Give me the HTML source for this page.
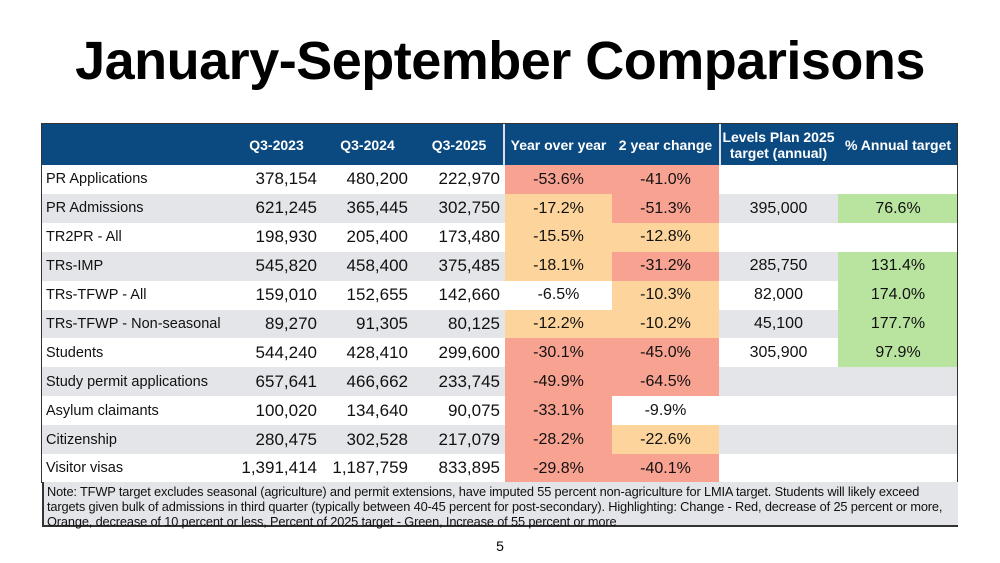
<!DOCTYPE html>
<html><head><meta charset="utf-8"><style>
body{margin:0;width:1000px;height:563px;background:#fff;font-family:"Liberation Sans",Arial,sans-serif;position:relative;overflow:hidden}
#title{position:absolute;left:0;top:30px;width:1000px;text-align:center;font-weight:bold;font-size:54px;color:#000;letter-spacing:-0.5px}
#tbl{position:absolute;left:0;top:0}
.c{position:absolute;box-sizing:border-box;display:flex;align-items:center;justify-content:center;color:#111;font-size:16px;white-space:nowrap}
.h{color:#fff;font-weight:bold;font-size:14px;text-align:center;line-height:16px}
.lab{justify-content:flex-start;padding-left:4px;font-size:14.5px}
.num{justify-content:flex-end;padding-right:5px;font-size:17px}
#note{position:absolute;left:42px;top:482px;width:916px;height:45px;background:#e4e5e9;font-size:12.8px;line-height:15px;padding:2px 3px;box-sizing:border-box;border-left:2px solid #333;border-bottom:2px solid #333;color:#111;letter-spacing:-0.15px}
#pg{position:absolute;left:0;top:538px;width:1000px;text-align:center;font-size:14px}
</style></head><body>
<div id="title">January-September Comparisons</div>
<div id="tbl"></div>
<div id="note">Note: TFWP target excludes seasonal (agriculture) and permit extensions, have imputed 55 percent non-agriculture for LMIA target. Students will likely exceed targets given bulk of admissions in third quarter (typically between 40-45 percent for post-secondary). Highlighting: Change - Red, decrease of 25 percent or more, Orange, decrease of 10 percent or less, Percent of 2025 target - Green, Increase of 55 percent or more</div>
<div id="pg">5</div>
<script>
const headers=["","Q3-2023","Q3-2024","Q3-2025","Year over year","2 year change","Levels Plan 2025<br>target (annual)","% Annual target"];
const labels=["PR Applications","PR Admissions","TR2PR - All","TRs-IMP","TRs-TFWP - All","TRs-TFWP - Non-seasonal","Students","Study permit applications","Asylum claimants","Citizenship","Visitor visas"];
const q2023=["378,154","621,245","198,930","545,820","159,010","89,270","544,240","657,641","100,020","280,475","1,391,414"];
const q2024=["480,200","365,445","205,400","458,400","152,655","91,305","428,410","466,662","134,640","302,528","1,187,759"];
const q2025=["222,970","302,750","173,480","375,485","142,660","80,125","299,600","233,745","90,075","217,079","833,895"];
const yoy=["-53.6%","-17.2%","-15.5%","-18.1%","-6.5%","-12.2%","-30.1%","-49.9%","-33.1%","-28.2%","-29.8%"];
const yoyCls=["r","o","o","o","w","o","r","r","r","r","r"];
const two=["-41.0%","-51.3%","-12.8%","-31.2%","-10.3%","-10.2%","-45.0%","-64.5%","-9.9%","-22.6%","-40.1%"];
const twoCls=["r","r","o","r","o","o","r","r","w","o","r"];
const target=["","395,000","","285,750","82,000","45,100","305,900","","","",""];
const pct=["","76.6%","","131.4%","174.0%","177.7%","97.9%","","","",""];
const colX=[42,231,322,413,505,612,719,838,958];
const colors={r:"#f8a291",o:"#fdd59c",w:"#ffffff",g:"#b9e49f"};
const T=document.getElementById('tbl');
function cell(x,y,w,h,txt,bg,cls,name){const d=document.createElement('div');


d.className='c '+cls;d.style.left=x+'px';d.style.top=y+'px';d.style.width=w+'px';d.style.height=h+'px';d.style.background=bg;d.innerHTML=txt;T.appendChild(d);}
const hy=124,hh=41,rh=28.9;
cell(42,hy,916,hh,"","#0b4a80","","header-bar");
headers.forEach((t,i)=>{cell(colX[i],hy,colX[i+1]-colX[i],hh,t,"transparent","h","header-"+i);});
labels.forEach((lab,r)=>{
 const y=hy+hh+r*rh,stripe=(r%2==1)?"#e4e5e9":"#ffffff";
 cell(42,y,colX[4]-42,rh+0.5,"",stripe,"","row-bg-"+r);
 cell(colX[0],y,colX[1]-colX[0],rh,lab,"transparent","lab","row-label-"+r);
 cell(colX[1],y,colX[2]-colX[1],rh,q2023[r],"transparent","num","q3-2023-"+r);
 cell(colX[2],y,colX[3]-colX[2],rh,q2024[r],"transparent","num","q3-2024-"+r);
 cell(colX[3],y,colX[4]-colX[3],rh,q2025[r],"transparent","num","q3-2025-"+r);
 cell(colX[4],y,colX[5]-colX[4],rh+0.5,yoy[r],colors[yoyCls[r]],"","yoy-"+r);
 cell(colX[5],y,colX[6]-colX[5],rh+0.5,two[r],colors[twoCls[r]],"","two-year-"+r);
 cell(colX[6],y,colX[7]-colX[6],rh+0.5,target[r],stripe,"","target-"+r);
 cell(colX[7],y,colX[8]-colX[7],rh+0.5,pct[r],pct[r]?colors.g:stripe,"","pct-target-"+r);
});
const bl=document.createElement('div');


bl.style.cssText="position:absolute;left:41px;top:123px;width:917px;height:360px;border:1.5px solid #333;border-bottom:none;box-sizing:border-box;pointer-events:none";
T.appendChild(bl);
const vl=document.createElement('div');


vl.style.cssText="position:absolute;left:503px;top:124px;width:1.5px;height:41px;background:#dde";
T.appendChild(vl);
const vl2=document.createElement('div');


vl2.style.cssText="position:absolute;left:719px;top:124px;width:1.5px;height:41px;background:#dde";
T.appendChild(vl2);
</script>
</body></html>
